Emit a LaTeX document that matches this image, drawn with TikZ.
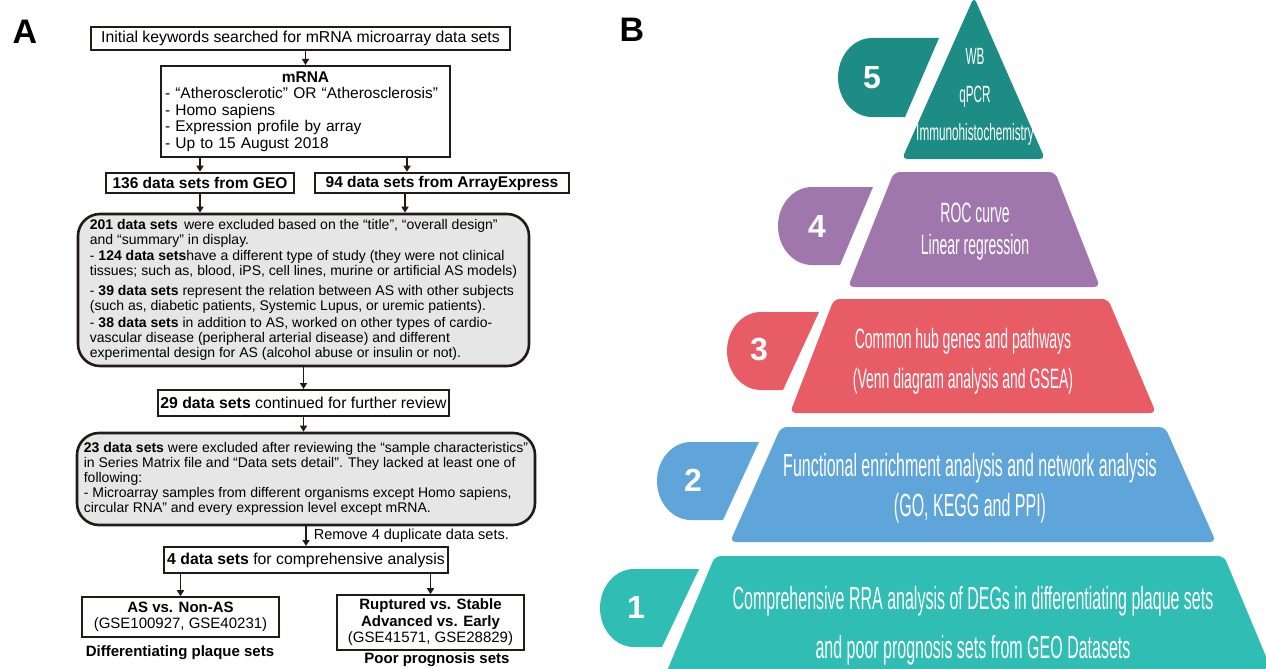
\documentclass[tikz,border=0pt]{standalone}
\usepackage{fontspec}
\setmainfont{Liberation Sans}
\newfontfamily\narrowfont[FakeStretch=0.5]{Liberation Sans}
\usepackage{tikz}
\usetikzlibrary{arrows.meta,positioning}
\definecolor{FlowInk}{HTML}{231916}
\definecolor{FlowGrey}{HTML}{E6E6E6}
\definecolor{TierFive}{HTML}{1C8C84}
\definecolor{TierFour}{HTML}{A077AD}
\definecolor{TierThree}{HTML}{E85C66}
\definecolor{TierTwo}{HTML}{5FA5D9}
\definecolor{TierOne}{HTML}{30BDB4}
\newcommand{\fs}[2]{\fontsize{#1}{#2}\selectfont}

\begin{document}
\begin{tikzpicture}[x=1pt,y=-1pt,
      box/.style={draw=FlowInk,line width=2pt,inner sep=2pt,align=center,
                  font=\fs{15.8}{18}},
      thinbox/.style={box,line width=1.6pt,font=\fs{15}{16.5}},
      srcbox/.style={box,line width=2.6pt,font=\bfseries\fs{15.5}{18}},
      pill/.style={draw=FlowInk,line width=2.6pt,fill=FlowGrey,rounded corners=22pt,
                   align=left,font=\fs{14}{15}},
      flow/.style={-{Triangle[length=6pt,width=7pt]},line width=1.6pt,draw=FlowInk},
      lab/.style={font=\fs{14.5}{16},inner sep=1pt},
      tag/.style={font=\bfseries\fs{15}{18}},
      panel/.style={font=\bfseries\fs{34}{36}},
      tier/.style={text=white,align=center},
      num/.style={text=white,font=\bfseries\fs{32}{36}}]
    \clip (0,0) rectangle (1266,669);
    \fill[white] (0,0) rectangle (1266,669);
    % panel A
    \node[panel] (pa) at (25,32) {A};
    \node[box,minimum width=419,minimum height=23] (kw) at (300.5,38.5)
      {Initial keywords searched for mRNA microarray data sets};
    \node[box,minimum width=289,minimum height=91,text width=281,align=left,
          font=\fs{15.5}{16.6}] (mrna) at (305.5,111.5)
      {\makebox[281pt]{\bfseries mRNA}\\- “Atherosclerotic” OR “Atherosclerosis”\\- Homo sapiens\\
       - Expression profile by array\\- Up to 15 August 2018};
    \node[srcbox,minimum width=188,minimum height=20] (geo) at (200,183) {136 data sets from GEO};
    \node[srcbox,minimum width=254,minimum height=20] (ae)  at (442,183) {94 data sets from ArrayExpress};
    \node[pill,minimum width=451,minimum height=152] (excl1) at (303.5,290)
      {\textbf{201 data sets}\, were excluded based on the “title”, “overall design”\\
       and “summary” in display.\\[1pt]
       - \textbf{124 data sets}have a different type of study (they were not clinical\\
       tissues; such as, blood, iPS, cell lines, murine or artificial AS models)\\[5pt]
       - \textbf{39 data sets} represent the relation between AS with other subjects\\
       (such as, diabetic patients, Systemic Lupus, or uremic patients).\\[2pt]
       - \textbf{38 data sets} in addition to AS, worked on other types of cardio-\\
       vascular disease (peripheral arterial disease) and different\\
       experimental design for AS (alcohol abuse or insulin or not).};
    \node[box,minimum width=291,minimum height=26] (rev) at (303.5,403)
      {\textbf{29 data sets} continued for further review};
    \node[pill,minimum width=458,minimum height=92] (excl2) at (306,479)
      {\textbf{23 data sets} were excluded after reviewing the “sample characteristics”\\
       in Series Matrix file and “Data sets detail”. They lacked at least one of\\
       following:\\
       - Microarray samples from different organisms except Homo sapiens,\\
       circular RNA” and every expression level except mRNA.};
    \node[box,minimum width=284,minimum height=26] (final) at (306,560)
      {\textbf{4 data sets} for comprehensive analysis};
    \node[thinbox,minimum width=197,minimum height=40] (plaque) at (180.5,617)
      {\textbf{AS vs. Non-AS}\\(GSE100927, GSE40231)};
    \node[thinbox,minimum width=187,minimum height=55] (prog) at (430.5,622.5)
      {\textbf{Ruptured vs. Stable}\\\textbf{Advanced vs. Early}\\(GSE41571, GSE28829)};
    \node[tag] (plaquelab) at (180,653) {Differentiating plaque sets};
    \node[tag] (proglab) at (437,660) {Poor prognosis sets};
    \draw[flow] (kw.south -| mrna.north) -- (mrna.north);
    \draw[flow] (mrna.south -| geo.north) -- (geo.north);
    \draw[flow] (mrna.south -| 407,0) -- (ae.north -| 407,0);
    \draw[flow] (geo.south) -- (geo.south |- excl1.north);
    \draw[flow] (ae.south -| 405,0) -- (excl1.north -| 405,0);
    \draw[flow] (excl1.south -| rev.north) -- (rev.north);
    \draw[flow] (rev.south) -- (rev.south |- excl2.north);
    \draw[flow] (excl2.south -| final.north) -- node[lab,right=6pt] {Remove 4 duplicate data sets.} (final.north);
    \draw[flow] (final.south -| plaque.north) -- (plaque.north);
    \draw[flow] (final.south -| prog.north) -- (prog.north);
    % panel B
    \node[panel] (pb) at (632,30) {B};
    \fill[TierFive,rounded corners=5pt] (974,-3) -- (1045,159) -- (902,159) -- cycle;
    \fill[TierFour,rounded corners=6pt] (894,172) -- (1055,172) -- (1100,287) -- (848,287) -- cycle;
    \fill[TierThree,rounded corners=6pt] (834,299) -- (1108,299) -- (1156,413) -- (790,413) -- cycle;
    \fill[TierTwo,rounded corners=6pt] (781,427) -- (1165,427) -- (1216,542) -- (730,542) -- cycle;
    \fill[TierOne,rounded corners=6pt] (715,556) -- (1224,556) -- (1280,690) -- (659,690) -- cycle;
    \fill[TierFive] (939,38) -- (872,38) arc[start angle=270,end angle=90,x radius=34,y radius=39.5] -- (905,117) -- cycle;
    \fill[TierFour] (873,187) -- (812,187) arc[start angle=270,end angle=90,x radius=34,y radius=39] -- (840,265) -- cycle;
    \fill[TierThree] (819,312) -- (761,312) arc[start angle=270,end angle=90,x radius=34,y radius=39] -- (783,390) -- cycle;
    \fill[TierTwo] (759,442) -- (691,442) arc[start angle=270,end angle=90,x radius=34,y radius=39] -- (723,520) -- cycle;
    \fill[TierOne] (699,569) -- (634,569) arc[start angle=270,end angle=90,x radius=34,y radius=39] -- (662,647) -- cycle;
    \node[num] (n5) at (872,78) {5};
    \node[num] (n4) at (817,226) {4};
    \node[num] (n3) at (759,350) {3};
    \node[num] (n2) at (693,480) {2};
    \node[num] (n1) at (636,607) {1};
    \node[tier,font=\narrowfont\fs{23.5}{38}] (t5) at (975,97) {WB\\qPCR\\Immunohistochemistry};
    \node[tier,font=\narrowfont\fs{28}{32}] (t4) at (975,232) {ROC curve\\Linear regression};
    \node[tier,font=\narrowfont\fs{28}{40}] (t3) at (963,361) {Common hub genes and pathways\\(Venn diagram analysis and GSEA)};
    \node[tier,font=\narrowfont\fs{32}{40}] (t2) at (970,488) {Functional enrichment analysis and network analysis\\(GO, KEGG and PPI)};
    \node[tier,font=\narrowfont\fs{32}{49}] (t1) at (973,626) {Comprehensive RRA analysis of DEGs in differentiating plaque sets\\and poor prognosis sets from GEO Datasets};
  \end{tikzpicture}
\end{document}
